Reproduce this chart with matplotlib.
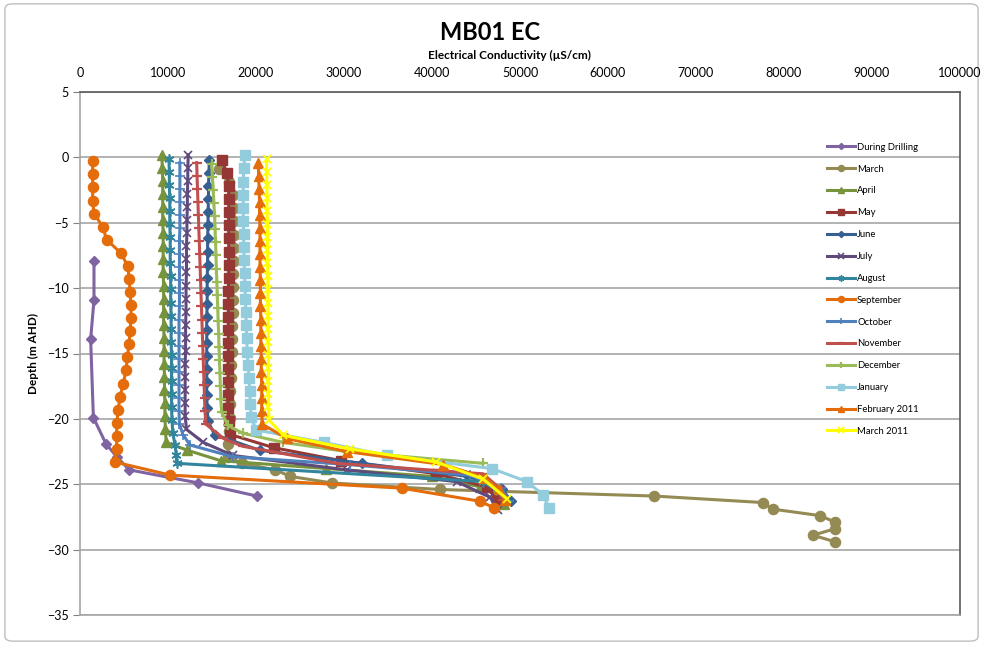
import matplotlib
matplotlib.use("Agg")
import matplotlib.pyplot as plt
from matplotlib.patches import FancyBboxPatch

plt.rcParams['font.family'] = ['Lato', 'DejaVu Sans']

# ---- EC profiles (depth in m AHD, EC in uS/cm) ----
depth_drilling = [-7.9, -10.9, -13.9, -19.9, -21.9, -22.9, -23.9, -24.9, -25.9]
ec_drilling = [1590, 1590, 1210, 1520, 2950, 4170, 5600, 13450, 20080]

depth_mar = [-0.9, -1.9, -2.9, -3.9, -4.9, -5.9, -6.9, -7.9, -8.9, -9.9, -10.9, -11.9,
             -12.9, -13.9, -14.9, -15.9, -16.9, -17.9, -18.9, -19.9, -20.9, -21.9, -22.9,
             -23.4, -23.9, -24.4, -24.9, -25.4, -25.9, -26.4, -26.9, -27.4, -27.9, -28.4,
             -28.9, -29.4]
ec_mar = [15800, 16900, 17400, 17500, 17500, 17500, 17500, 17450, 17400, 17400, 17400, 17350,
          17300, 17300, 17250, 17200, 17200, 17100, 17000, 17000, 16900, 16800, 16800,
          18400, 22200, 23900, 28600, 40900, 65200, 77600, 78700, 84100, 85800, 85800,
          83300, 85800]

depth_apr = [0.2, -0.8, -1.8, -2.8, -3.8, -4.8, -5.8, -6.8, -7.8, -8.8, -9.8, -10.8,
             -11.8, -12.8, -13.8, -14.8, -15.8, -16.8, -17.8, -18.8, -19.8, -20.8, -21.8,
             -22.4, -23.2, -23.8, -24.4, -25.2, -25.9, -26.5]
ec_apr = [9300, 9350, 9400, 9400, 9400, 9400, 9450, 9450, 9450, 9450, 9500, 9500,
          9500, 9500, 9550, 9550, 9550, 9600, 9600, 9650, 9650, 9700, 9800,
          12200, 16000, 28000, 40000, 45500, 47500, 48200]

depth_may = [-0.2, -1.2, -2.2, -3.2, -4.2, -5.2, -6.2, -7.2, -8.2, -9.2, -10.2, -11.2,
             -12.2, -13.2, -14.2, -15.2, -16.2, -17.2, -18.2, -19.2, -20.2, -21.2,
             -22.2, -23.2, -24.2, -25.2, -26.2]
ec_may = [16100, 16700, 16900, 16900, 16900, 16900, 16900, 16900, 16900, 16900, 16850, 16850,
          16850, 16850, 16850, 16850, 16850, 16850, 16850, 16850, 16900, 17100,
          22000, 29700, 40500, 46200, 47400]

depth_jun = [-0.2, -1.2, -2.2, -3.2, -4.2, -5.2, -6.2, -7.2, -8.2, -9.2, -10.2, -11.2,
             -12.2, -13.2, -14.2, -15.2, -16.2, -17.2, -18.2, -19.2, -20.2,
             -21.2, -22.4, -23.4, -24.4, -25.4, -26.3]
ec_jun = [14700, 14650, 14600, 14600, 14550, 14550, 14500, 14500, 14500, 14450, 14450, 14450,
          14400, 14400, 14400, 14400, 14400, 14400, 14400, 14450, 14550,
          15300, 20400, 32000, 44100, 48000, 49000]

depth_jul = [0.2, -0.8, -1.8, -2.8, -3.8, -4.8, -5.8, -6.8, -7.8, -8.8, -9.8, -10.8,
             -11.8, -12.8, -13.8, -14.8, -15.8, -16.8, -17.8, -18.8, -19.8, -20.8,
             -21.8, -22.8, -23.9, -24.8, -26.0, -27.0]
ec_jul = [12300, 12250, 12250, 12200, 12200, 12150, 12150, 12100, 12100, 12100, 12050, 12050,
          12050, 12000, 12000, 12000, 11950, 11950, 11950, 11950, 11950, 12100,
          14000, 17400, 30300, 42800, 46600, 47500]

depth_aug = [-0.1, -1.1, -2.1, -3.1, -4.1, -5.1, -6.1, -7.1, -8.1, -9.1, -10.1, -11.1,
             -12.1, -13.1, -14.1, -15.1, -16.1, -17.1, -18.1, -19.1, -20.1, -21.1,
             -22.0, -22.8, -23.4, -24.8, -25.6, -26.3]
ec_aug = [10100, 10150, 10150, 10200, 10200, 10200, 10250, 10250, 10250, 10300, 10300, 10300,
          10350, 10350, 10350, 10400, 10400, 10400, 10400, 10400, 10450, 10550,
          10800, 10950, 11000, 45800, 47700, 48300]

depth_sep = [-0.3, -1.3, -2.3, -3.3, -4.3, -5.3, -6.3, -7.3, -8.3, -9.3, -10.3, -11.3,
             -12.3, -13.3, -14.3, -15.3, -16.3, -17.3, -18.3, -19.3, -20.3, -21.3, -22.3,
             -23.3, -24.3, -25.3, -26.3, -26.8]
ec_sep = [1440, 1440, 1440, 1440, 1590, 2580, 3030, 4620, 5420, 5600, 5680, 5800,
          5800, 5680, 5570, 5380, 5230, 4920, 4550, 4350, 4170, 4170, 4170,
          3980, 10230, 36600, 45450, 47050]

depth_oct = [-0.4, -1.4, -2.4, -3.4, -4.4, -5.4, -6.4, -7.4, -8.4, -9.4, -10.4, -11.4,
             -12.4, -13.4, -14.4, -15.4, -16.4, -17.4, -18.4, -19.4, -20.4,
             -21.2, -22.0, -22.9, -23.5, -24.3, -25.3, -26.3]
ec_oct = [11350, 11350, 11350, 11350, 11350, 11350, 11300, 11300, 11300, 11300, 11300, 11300,
          11250, 11250, 11250, 11250, 11250, 11250, 11250, 11250, 11300,
          11700, 12500, 17400, 30700, 44300, 47800, 48800]

depth_nov = [-0.4, -1.4, -2.4, -3.4, -4.4, -5.4, -6.4, -7.4, -8.4, -9.4, -10.4, -11.4,
             -12.4, -13.4, -14.4, -15.4, -16.4, -17.4, -18.4, -19.4, -20.4,
             -21.5, -22.1, -23.4, -24.2, -25.2, -26.2]
ec_nov = [13260, 13300, 13350, 13400, 13450, 13500, 13550, 13600, 13650, 13700, 13750, 13800,
          13850, 13900, 13950, 14000, 14050, 14100, 14150, 14200, 14300,
          16300, 18500, 29200, 45800, 47500, 48100]

depth_dec = [-0.5, -1.5, -2.5, -3.5, -4.5, -5.5, -6.5, -7.5, -8.5, -9.5, -10.5, -11.5,
             -12.5, -13.5, -14.5, -15.5, -16.5, -17.5, -18.5, -19.5,
             -20.5, -21.1, -21.8, -22.5, -23.4]
ec_dec = [14960, 15050, 15150, 15200, 15300, 15350, 15400, 15450, 15500, 15550, 15600, 15650,
          15700, 15750, 15800, 15850, 15900, 15950, 16000, 16100,
          16800, 18500, 23100, 30300, 45800]

depth_jan = [0.15, -0.85, -1.85, -2.85, -3.85, -4.85, -5.85, -6.85, -7.85, -8.85, -9.85,
             -10.85, -11.85, -12.85, -13.85, -14.85, -15.85, -16.85, -17.85, -18.85, -19.85,
             -20.85, -21.8, -22.8, -23.8, -24.8, -25.8, -26.8]
ec_jan = [18750, 18600, 18550, 18550, 18550, 18550, 18600, 18600, 18650, 18700, 18750,
          18800, 18850, 18900, 18950, 19000, 19100, 19200, 19300, 19350, 19450,
          20000, 27700, 34900, 46800, 50800, 52600, 53300]

depth_feb11 = [-0.4, -1.4, -2.4, -3.4, -4.4, -5.4, -6.4, -7.4, -8.4, -9.4, -10.4, -11.4,
               -12.4, -13.4, -14.4, -15.4, -16.4, -17.4, -18.4, -19.4, -20.4,
               -21.5, -22.5, -23.5, -24.5, -25.4, -26.2]
ec_feb11 = [20260, 20300, 20350, 20400, 20400, 20450, 20450, 20450, 20450, 20500, 20500, 20500,
            20550, 20550, 20550, 20600, 20600, 20650, 20650, 20650, 20700,
            23500, 30300, 41300, 46000, 47600, 48300]

depth_mar11 = [-0.1, -1.1, -2.1, -3.1, -4.1, -5.1, -6.1, -7.1, -8.1, -9.1, -10.1, -11.1,
               -12.1, -13.1, -14.1, -15.1, -16.1, -17.1, -18.1, -19.1, -20.1,
               -21.25, -22.3, -23.3, -24.6, -26.1]
ec_mar11 = [21200, 21200, 21250, 21250, 21250, 21300, 21300, 21300, 21300, 21350, 21350, 21350,
            21350, 21400, 21400, 21400, 21400, 21400, 21400, 21400, 21500,
            23100, 30700, 40500, 45800, 48500]

series_labels = ["During Drilling", "March", "April", "May", "June", "July", "August",
                 "September", "October", "November", "December", "January",
                 "February 2011", "March 2011"]
x_ticks = [0, 10000, 20000, 30000, 40000, 50000, 60000, 70000, 80000, 90000, 100000]
y_ticks = [5, 0, -5, -10, -15, -20, -25, -30, -35]

series_data = [
    (ec_drilling, depth_drilling), (ec_mar, depth_mar), (ec_apr, depth_apr),
    (ec_may, depth_may), (ec_jun, depth_jun), (ec_jul, depth_jul), (ec_aug, depth_aug),
    (ec_sep, depth_sep), (ec_oct, depth_oct), (ec_nov, depth_nov), (ec_dec, depth_dec),
    (ec_jan, depth_jan), (ec_feb11, depth_feb11), (ec_mar11, depth_mar11),
]

# colour, marker, marker size, marker edge width
styles = [
    ("#8064A2", "D", 5.2, 1.0),
    ("#948A54", "o", 7.3, 1.0),
    ("#77933C", "^", 7.5, 1.0),
    ("#953735", "s", 6.8, 1.0),
    ("#376092", "D", 5.2, 1.0),
    ("#604A7B", "x", 6.2, 1.2),
    ("#31859C", (6, 2, 0), 7.2, 1.2),
    ("#E46C0A", "o", 7.3, 1.0),
    ("#4F81BD", "+", 6.8, 1.2),
    ("#C0504D", "_", 6.8, 1.6),
    ("#9BBB59", "+", 6.8, 1.6),
    ("#93CDDD", "s", 7.8, 1.0),
    ("#E46C0A", "^", 7.5, 1.0),
    ("#FFFF00", "x", 6.2, 1.3),
]

fig = plt.figure(figsize=(9.83, 6.45), dpi=100)
fig.patches.append(FancyBboxPatch((0.005, 0.006), 0.99, 0.988,
                                  boxstyle="round,pad=0,rounding_size=0.008",
                                  transform=fig.transFigure, facecolor="white",
                                  edgecolor="#BFBFBF", linewidth=1.0, zorder=-1))

ax = fig.add_axes([80 / 983, 1 - 615 / 645, 880 / 983, 523 / 645])
ax.set_facecolor("none")

for i, ((xs, ys), lab, (col, mk, ms, mew)) in enumerate(zip(series_data, series_labels, styles)):
    ax.plot(xs, ys, color=col, lw=2.2, marker=mk, markersize=ms,
            markerfacecolor=col, markeredgecolor=col, markeredgewidth=mew,
            label=lab, zorder=3 + i, solid_joinstyle="round")

ax.set_xlim(0, 100000)
ax.set_ylim(-35, 5)
ax.set_xticks(x_ticks)
ax.set_yticks(y_ticks)
ax.xaxis.tick_top()
ax.tick_params(axis="x", length=0, pad=9.5, labelsize=9, colors="black")
ax.tick_params(axis="y", length=5, width=0.8, color="#808080", pad=3, labelsize=9)
ax.yaxis.grid(True, color="#A6A6A6", linewidth=1.2, zorder=0)
ax.set_axisbelow(True)

for side in ["left", "bottom"]:
    ax.spines[side].set_color("#A6A6A6")
    ax.spines[side].set_linewidth(1.2)
for side in ["top", "right"]:
    ax.spines[side].set_color("#595959")
    ax.spines[side].set_linewidth(1.2)

ax.set_ylabel("Depth (m AHD)", fontsize=8.5, fontweight="bold", labelpad=6)
fig.text(509 / 983, 1 - 55 / 645, "Electrical Conductivity (µS/cm)", fontsize=8.5,
         fontweight="bold", ha="center", va="center")
fig.text(490 / 983, 1 - 33 / 645, "MB01 EC", fontsize=17,
         fontweight="bold", ha="center", va="center")

leg = ax.legend(loc="upper left", bbox_to_anchor=(823 / 983, 1 - 139 / 645),
                bbox_transform=fig.transFigure, frameon=False, fontsize=6.8,
                labelspacing=1.36, handlelength=3.0, handletextpad=0.2,
                markerscale=0.6, borderaxespad=0)

fig.savefig("out.png", dpi=100)
